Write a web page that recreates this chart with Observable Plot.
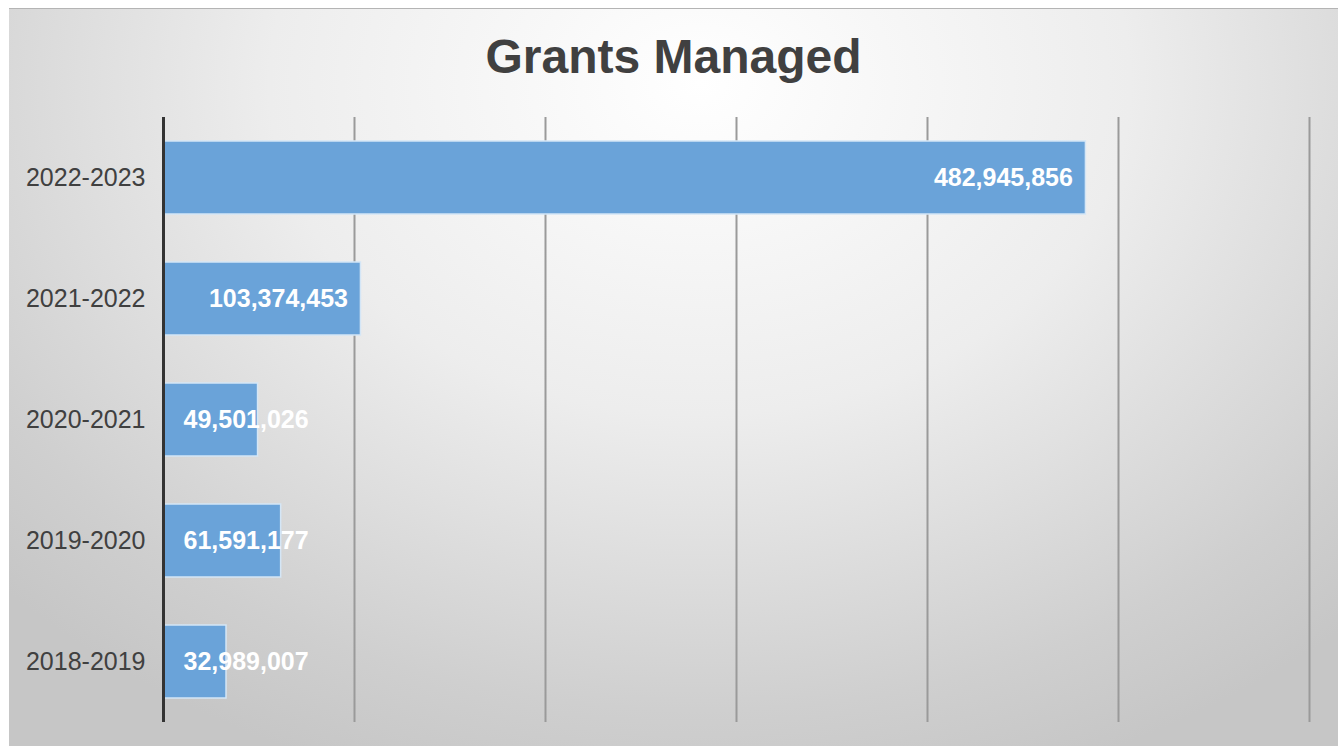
<!DOCTYPE html>
<html>
<head>
<meta charset="utf-8">
<script src="https://cdn.jsdelivr.net/npm/d3@7"></script>
<script src="https://cdn.jsdelivr.net/npm/@observablehq/plot@0.6"></script>
<style>
  html, body { margin: 0; padding: 0; background: #ffffff; width: 1338px; height: 746px; overflow: hidden; }
  #frame {
    position: absolute; left: 9px; top: 8px; width: 1329px; height: 738px;
    border-top: 1px solid #b4b4b4;
    background: radial-gradient(ellipse 72% 100% at 52% 10%, #ffffff 0%, #ededed 45%, #cfcfcf 85%, #c6c6c6 100%);
    font-family: "Liberation Sans", Arial, sans-serif;
  }
  #title {
    position: absolute; left: 0; top: 20px; width: 1329px; text-align: center;
    font-size: 48px; font-weight: bold; color: #404040; line-height: 56px;
  }
  #chart { position: absolute; left: 0; top: 83px; }
</style>
</head>
<body>
<div id="frame">
  <div id="title">Grants Managed</div>
  <div id="chart"></div>
</div>
<script>
const years = ["2022-2023", "2021-2022", "2020-2021", "2019-2020", "2018-2019"];
const amounts = [482945856, 103374453, 49501026, 61591177, 32989007];
const gridTicks = [100e6, 200e6, 300e6, 400e6, 500e6, 600e6];

const data = years.map((y, i) => ({year: y, value: amounts[i]}));
const fmt = d3.format(",");
const wide = data.filter(d => d.value > 80e6);
const narrow = data.filter(d => d.value <= 80e6);

const plot = Plot.plot({
  width: 1329,
  height: 654,
  marginLeft: 154,
  marginRight: 29,
  marginTop: 25,
  marginBottom: 24,
  style: {background: "transparent", fontFamily: "'Liberation Sans', Arial, sans-serif", overflow: "visible"},
  x: {domain: [0, 600e6], axis: null},
  y: {domain: years, paddingInner: 0.4, paddingOuter: 0.2, label: null},
  marks: [
    Plot.ruleX(gridTicks, {stroke: "#9a9a9a", strokeWidth: 2}),
    Plot.barX(data, {x: "value", y: "year", fill: "#6aa3d9", stroke: "#d4e6f6", strokeWidth: 1.5}),
    Plot.ruleX([0], {stroke: "#333333", strokeWidth: 3}),
    Plot.axisY({tickSize: 0, tickPadding: 18, fontSize: 25, color: "#404040", label: null}),
    Plot.text(wide, {x: "value", y: "year", text: d => fmt(d.value), textAnchor: "end", dx: -13, fill: "white", fontSize: 25, fontWeight: "bold"}),
    Plot.text(narrow, {x: 0, y: "year", text: d => fmt(d.value), textAnchor: "start", dx: 20, fill: "white", fontSize: 25, fontWeight: "bold"})
  ]
});
document.getElementById("chart").appendChild(plot);
</script>
</body>
</html>
